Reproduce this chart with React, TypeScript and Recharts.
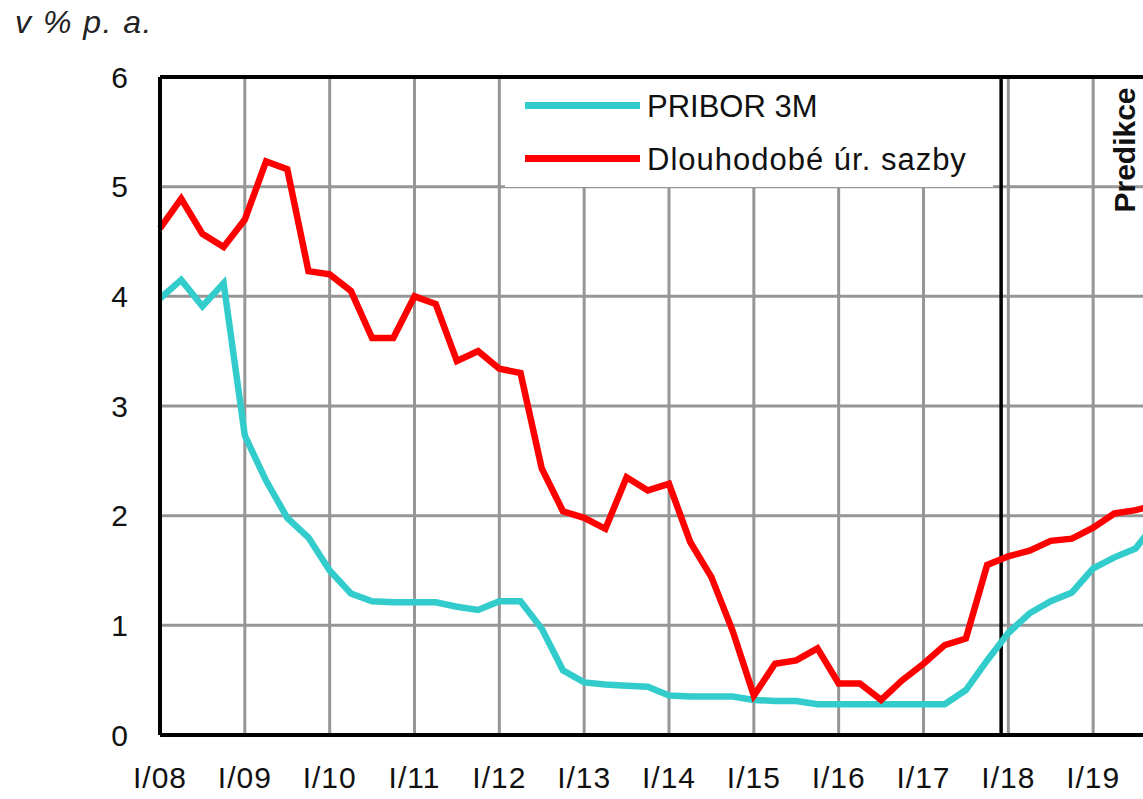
import React from "react";
import { LineChart, Line, XAxis, YAxis, CartesianGrid, ReferenceLine } from "recharts";

// quarterly values, I/08 ... IV/19 (index 0 = I/08)
const pribor3m = [
  3.98, 4.15, 3.91, 4.12,
  2.73, 2.32, 1.98, 1.8,
  1.5, 1.29, 1.22, 1.21,
  1.21, 1.21, 1.17, 1.14,
  1.22, 1.22, 0.97, 0.59,
  0.48, 0.46, 0.45, 0.44,
  0.36, 0.35, 0.35, 0.35,
  0.32, 0.31, 0.31, 0.28,
  0.28, 0.28, 0.28, 0.28,
  0.28, 0.28, 0.41, 0.68,
  0.93, 1.11, 1.22, 1.3,
  1.52, 1.62, 1.7, 1.95,
];

const longRates = [
  4.62, 4.89, 4.57, 4.45,
  4.7, 5.23, 5.16, 4.23,
  4.2, 4.05, 3.62, 3.62,
  4.0, 3.93, 3.41, 3.5,
  3.34, 3.3, 2.43, 2.04,
  1.98, 1.88, 2.35, 2.23,
  2.29, 1.76, 1.44, 0.95,
  0.36, 0.65, 0.68, 0.79,
  0.47, 0.47, 0.32, 0.5,
  0.65, 0.82, 0.88, 1.55,
  1.63, 1.68, 1.77, 1.79,
  1.89, 2.02, 2.05, 2.1,
];

const yearLabels = ["I/08", "I/09", "I/10", "I/11", "I/12", "I/13", "I/14", "I/15", "I/16", "I/17", "I/18", "I/19"];
const yTicks = [0, 1, 2, 3, 4, 5, 6];

const seriesNames = ["PRIBOR 3M", "Dlouhodobé úr. sazby"];
const seriesColors = ["#33CCCC", "#FF0000"];

const forecastStart = 39.66; // quarter index of the "Predikce" divider

const data = pribor3m.map((v, i) => ({ i, pribor: v, dlouhe: longRates[i] }));
const xTicks = yearLabels.map((_, k) => k * 4);

const font = "'Liberation Sans', Arial, sans-serif";

export default function App() {
  return (
    <div
      style={{
        position: "fixed",
        left: 0,
        top: 0,
        width: 1143,
        height: 799,
        overflow: "hidden",
        background: "#fff",
        fontFamily: font,
      }}
    >
      <div
        style={{
          position: "absolute",
          left: 15,
          top: 6,
          fontSize: 32,
          lineHeight: "32px",
          fontStyle: "italic",
          letterSpacing: 1.5,
          color: "#222",
          whiteSpace: "nowrap",
        }}
      >
        v % p. a.
      </div>

      <LineChart
        width={1178}
        height={799}
        data={data}
        margin={{ top: 77, right: 0, left: 100, bottom: 0 }}
        style={{ position: "absolute", left: 0, top: 0 }}
      >
        <CartesianGrid stroke="#969696" strokeWidth={3} />
        <XAxis
          dataKey="i"
          type="number"
          domain={[0, 48]}
          ticks={xTicks}
          interval={0}
          height={64}
          tickFormatter={(v: number) => yearLabels[v / 4]}
          axisLine={{ stroke: "#000", strokeWidth: 4 }}
          tickLine={false}
          tickSize={0}
          tickMargin={32}
          tick={{ fill: "#111", fontSize: 30, fontFamily: font, letterSpacing: 1 }}
        />
        <YAxis
          domain={[0, 6]}
          ticks={yTicks}
          width={60}
          axisLine={{ stroke: "#000", strokeWidth: 4 }}
          tickLine={false}
          tickSize={0}
          tickMargin={32}
          tick={{ fill: "#111", fontSize: 30, fontFamily: font }}
        />
        <ReferenceLine y={6} stroke="#000" strokeWidth={4} />
        <ReferenceLine x={forecastStart} stroke="#000" strokeWidth={3.5} />
        <Line
          type="linear"
          dataKey="pribor"
          name={seriesNames[0]}
          stroke={seriesColors[0]}
          strokeWidth={6.5}
          dot={false}
          isAnimationActive={false}
        />
        <Line
          type="linear"
          dataKey="dlouhe"
          name={seriesNames[1]}
          stroke={seriesColors[1]}
          strokeWidth={6.5}
          dot={false}
          isAnimationActive={false}
        />
      </LineChart>

      {/* legend box sits over the grid */}
      <div
        style={{
          position: "absolute",
          left: 505,
          top: 79,
          width: 488,
          height: 108,
          background: "#fff",
        }}
      >
        {seriesNames.map((name, k) => (
          <React.Fragment key={name}>
            <div
              style={{
                position: "absolute",
                left: 20,
                top: 23 + k * 53,
                width: 115,
                height: 7,
                background: seriesColors[k],
              }}
            />
            <div
              style={{
                position: "absolute",
                left: 142,
                top: 12 + k * 53,
                fontSize: 31,
                lineHeight: "31px",
                letterSpacing: k === 1 ? 1 : 0,
                color: "#111",
                whiteSpace: "nowrap",
              }}
            >
              {name}
            </div>
          </React.Fragment>
        ))}
      </div>

      <div
        style={{
          position: "absolute",
          left: 1055,
          top: 135,
          width: 140,
          height: 30,
          lineHeight: "30px",
          textAlign: "center",
          fontSize: 30,
          fontWeight: "bold",
          color: "#111",
          transform: "rotate(-90deg)",
          whiteSpace: "nowrap",
        }}
      >
        Predikce
      </div>
    </div>
  );
}
